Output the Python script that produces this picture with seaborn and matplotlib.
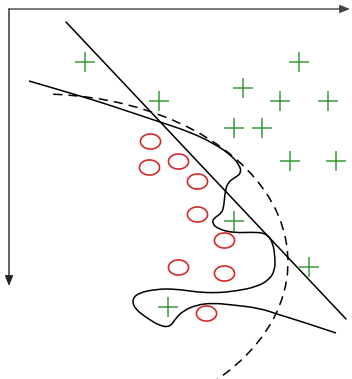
import numpy as np
import pandas as pd
import seaborn as sns
import matplotlib
matplotlib.use("Agg")
import matplotlib.pyplot as plt
from matplotlib.path import Path
from matplotlib.patches import PathPatch, Arc

sns.set_theme(style="white")

# Class A samples (plus signs)
plus_x = [85, 159, 299, 243, 280, 328, 234, 262, 290, 336, 234, 309, 168]
plus_y = [62, 101, 62, 88, 101, 101, 128, 128, 161, 161, 221, 267, 307]

# Class B samples (circles)
circ_x = [150, 149, 178, 197, 197, 224, 178, 224, 206]
circ_y = [141, 167, 161, 181, 214, 240, 267, 273, 313]

# Linear decision boundary (two end points)
line_x = [66, 346]
line_y = [22, 319]

# Flexible (overfitted) decision boundary, control points
curve_x = [29, 60, 100, 130, 160, 190, 215, 232, 240, 241, 236, 228, 225, 224,
           222, 214, 212, 218, 234, 256, 267, 273, 275, 275, 269, 256, 236, 216,
           196, 176, 157, 138, 132, 135, 147, 160, 170, 176, 183, 196, 213, 233,
           259, 280, 303, 336]
curve_y = [81, 90, 102, 112, 122, 132, 144, 156, 166, 173, 177, 182, 192, 205,
           213, 218, 223, 229, 233, 232, 234, 243, 257, 270, 280, 287, 291, 293,
           292, 289, 289, 293, 300, 309, 318, 326, 327, 318, 311, 305, 303, 305,
           308, 315, 322, 333]

# Elliptical boundary (center, full width/height, angular span)
ell_cx, ell_cy = 40, 262
ell_w, ell_h = 496, 336
ell_t1, ell_t2 = -85.5, 44

fig = plt.figure(figsize=(3.52, 3.79), dpi=100)
ax = fig.add_axes([0, 0, 1, 1])
ax.set_xlim(0, 352)
ax.set_ylim(379, 0)
ax.axis("off")

# Coordinate arrows
ax.annotate("", xy=(350, 9), xytext=(9, 9),
            arrowprops=dict(arrowstyle="-|>,head_length=0.5,head_width=0.2",
                            color="#444444", lw=1.0, shrinkA=0, shrinkB=0))
ax.annotate("", xy=(9, 286), xytext=(9, 9),
            arrowprops=dict(arrowstyle="-|>,head_length=0.5,head_width=0.2",
                            color="#222222", lw=1.0, shrinkA=0, shrinkB=0))

# Straight boundary
sns.lineplot(x=line_x, y=line_y, ax=ax, color="black", lw=1.1, sort=False,
             estimator=None)

# Dashed elliptical boundary
ax.add_patch(Arc((ell_cx, ell_cy), ell_w, ell_h, theta1=ell_t1, theta2=ell_t2,
                 color="black", lw=1.1, linestyle=(0, (6, 4))))

# Smooth wiggly boundary through the control points (quadratic B-spline)
pts = np.column_stack([curve_x, curve_y]).astype(float)
verts = [pts[0]]
codes = [Path.MOVETO]
for i in range(1, len(pts) - 1):
    mid = (pts[i] + pts[i + 1]) / 2
    if i == len(pts) - 2:
        mid = pts[i + 1]
    verts += [pts[i], mid]
    codes += [Path.CURVE3, Path.CURVE3]
ax.add_patch(PathPatch(Path(verts, codes), fill=False, color="black", lw=1.1))

# Samples
ellipse_marker = Path(np.column_stack([np.cos(np.linspace(0, 2 * np.pi, 60)),
                                       0.75 * np.sin(np.linspace(0, 2 * np.pi, 60))]))
df_p = pd.DataFrame({"x": plus_x, "y": plus_y})
df_c = pd.DataFrame({"x": circ_x, "y": circ_y})
ax.plot(df_p["x"], df_p["y"], linestyle="none", marker="+", markersize=14,
        markeredgewidth=1.1, color="#3a9a3a")
ax.plot(df_c["x"], df_c["y"], linestyle="none", marker=ellipse_marker,
        markersize=14.5, markeredgewidth=1.2, markerfacecolor="none",
        markeredgecolor="#d42a2a")

fig.savefig("out.png", dpi=100, facecolor="white")
